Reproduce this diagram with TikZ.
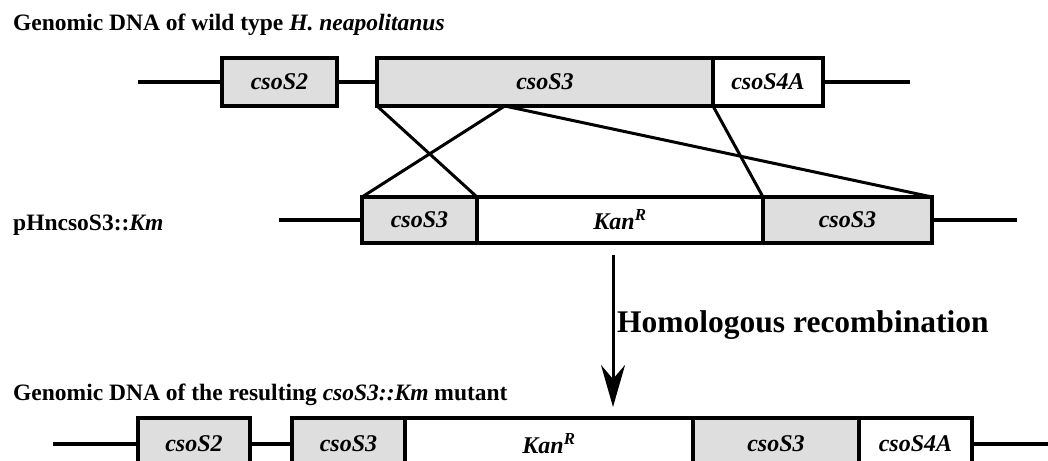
\documentclass[tikz,border=0pt]{standalone}
\usepackage{fontspec}
\setmainfont{Liberation Serif}
\usetikzlibrary{arrows.meta,positioning,calc}

\begin{document}
\begin{tikzpicture}[x=1pt, y=-1pt,
    gene/.style={draw, line width=3.5pt, inner sep=0pt, outer sep=0pt, minimum height=48pt, font=\fontsize{24}{28}\selectfont\bfseries\itshape},
    shade/.style={fill=black!13},
    dna/.style={line width=3.5pt},
    cross/.style={line width=3pt},
    title/.style={anchor=base west, inner sep=0pt, font=\fontsize{23.5}{28}\selectfont\bfseries}]
  \useasboundingbox (0,0) rectangle (1048,460);
  \node[title] (wtlabel) at (13,31) {Genomic DNA of wild type \textit{H. neapolitanus}};
  \node[gene, shade, minimum width=115pt] (wtS2) at (279.5,82) {csoS2};
  \node[gene, shade, minimum width=336pt] (wtS3) at (545,82) {csoS3};
  \node[gene, minimum width=110pt, right=0pt of wtS3] (wtS4A) {csoS4A};
  \coordinate (wtL) at (138,82);
  \coordinate (wtR) at (910,82);
  \draw[dna] (wtL) -- (wtS2);
  \draw[dna] (wtS2) -- (wtS3);
  \draw[dna] (wtS4A) -- (wtR);

  \node[title] (plabel) at (13,230) {pHncsoS3::\textit{Km}};
  \node[gene, shade, minimum width=115pt, minimum height=46pt] (pS3a) at (419.5,220) {csoS3};
  \node[gene, minimum width=286pt, minimum height=46pt, right=0pt of pS3a] (pKan) {Kan\textsuperscript{R}};
  \node[gene, shade, minimum width=169pt, minimum height=46pt, right=0pt of pKan] (pS3b) {csoS3};
  \coordinate (pL) at (279,220);
  \coordinate (pR) at (1017,220);
  \draw[dna] (pL) -- (pS3a);
  \draw[dna] (pS3b) -- (pR);

  \coordinate (split) at ($(wtS3.south west)!0.38!(wtS3.south east)$);
  \draw[cross] (wtS3.south west) -- (pS3a.north east);
  \draw[cross] (split) -- (pS3a.north west);
  \draw[cross] (split) -- (pS3b.north east);
  \draw[cross] (wtS3.south east) -- (pKan.north east);

  \coordinate (recTop) at (613,255);
  \coordinate (recTip) at (613,407);
  \draw[line width=3pt, -{Stealth[length=42pt, width=24pt, inset=14pt]}] (recTop) -- (recTip);
  \node[anchor=base west, inner sep=0pt, font=\fontsize{31.5}{36}\selectfont\bfseries] (reclabel) at (617,332) {Homologous recombination};

  \node[title] (mutlabel) at (13,400) {Genomic DNA of the resulting \textit{csoS3::Km} mutant};
  \node[gene, shade, minimum width=112pt, minimum height=52pt] (mS2) at (194,444) {csoS2};
  \node[gene, shade, minimum width=113pt, minimum height=52pt] (mS3a) at (348.5,444) {csoS3};
  \node[gene, minimum width=288pt, minimum height=52pt, right=0pt of mS3a] (mKan) {Kan\textsuperscript{R}};
  \node[gene, shade, minimum width=166pt, minimum height=52pt, right=0pt of mKan] (mS3b) {csoS3};
  \node[gene, minimum width=113pt, minimum height=52pt, right=0pt of mS3b] (mS4A) {csoS4A};
  \coordinate (mL) at (53,444);
  \coordinate (mR) at (1060,444);
  \draw[dna] (mL) -- (mS2);
  \draw[dna] (mS2) -- (mS3a);
  \draw[dna] (mS4A) -- (mR);
\end{tikzpicture}
\end{document}
